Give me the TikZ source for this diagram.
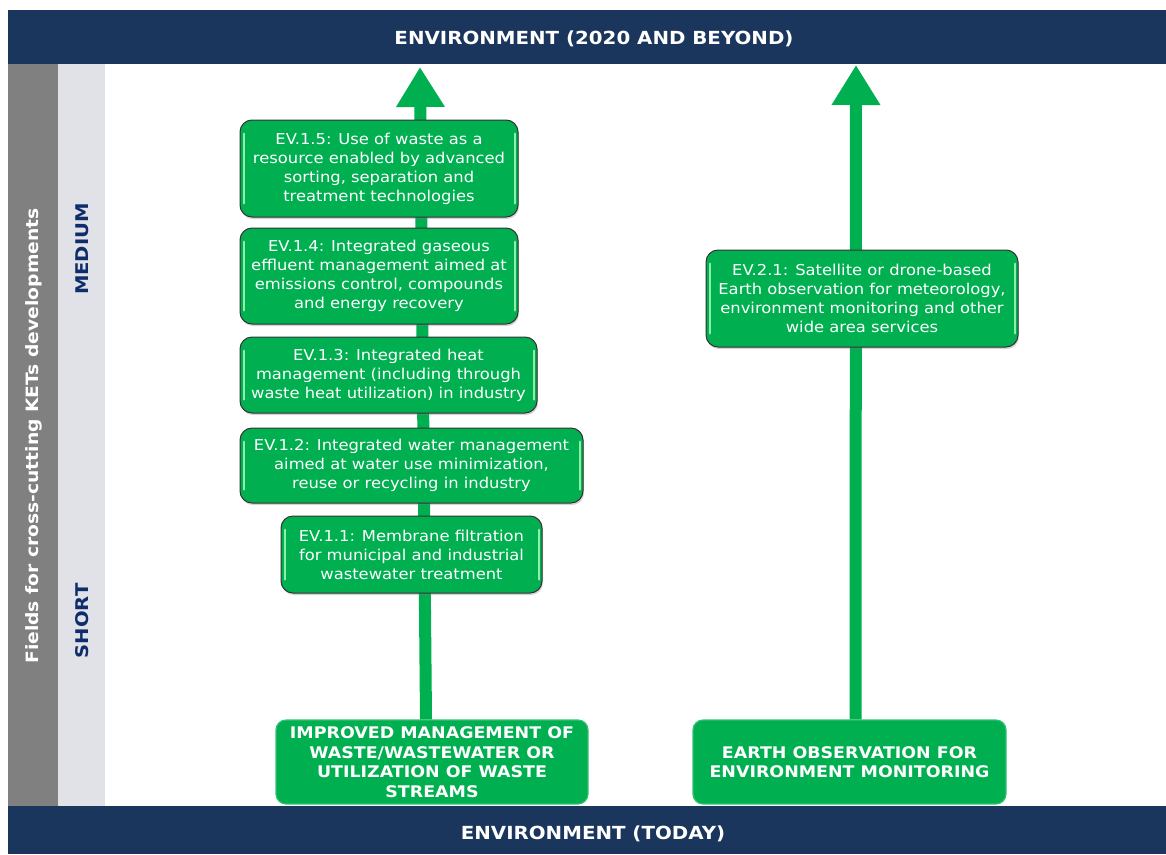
\documentclass[tikz,border=0pt]{standalone}
\usepackage{fontspec}
\setmainfont{DejaVu Sans}
% widened faces, close to the set width of the printed labels
\newfontfamily\textface[FakeStretch=1.09]{DejaVu Sans}
\newfontfamily\headface[FakeStretch=1.10]{DejaVu Sans}
\newfontfamily\sideface[FakeStretch=1.12]{DejaVu Sans}
\usetikzlibrary{arrows.meta,shadows,calc}

\definecolor{navy}{HTML}{1B365D}
\definecolor{kgreen}{HTML}{00B050}
\definecolor{colgray}{HTML}{808080}
\definecolor{collight}{HTML}{E1E2E7}
\definecolor{labelblue}{HTML}{102D6B}
\definecolor{glow}{HTML}{8CF0A8}

\tikzset{
  bannertext/.style={text=white, inner sep=0pt,
    font=\headface\fontsize{18}{21}\selectfont\bfseries},
  evbox/.style={rectangle, rounded corners=12pt, draw=black!80, line width=1pt,
    fill=kgreen, text=white, align=center, inner sep=0pt,
    font=\textface\fontsize{15}{19}\selectfont,
    drop shadow={opacity=0.35, shadow xshift=1pt, shadow yshift=-2pt}},
  basebox/.style={rectangle, rounded corners=10pt, draw=kgreen!80!white,
    line width=1.2pt, fill=kgreen, text=white, align=center, inner sep=0pt,
    font=\textface\fontsize{16}{19.5}\selectfont\bfseries},
  stem/.style={kgreen, line width=12pt, -{Triangle[width=46pt,length=40pt]}},
  sidelabel/.style={rotate=90, inner sep=0pt},
  fieldfont/.style={font=\headface\fontsize{17}{20}\selectfont\bfseries},
  termfont/.style={font=\sideface\fontsize{17.5}{20}\selectfont\bfseries},
}

% light inner glints on both sides of a rounded box
\newcommand{\glint}[1]{%
  \draw[glow, line width=2pt, line cap=round]
    ($(#1.north west)+(4,14)$) -- ($(#1.south west)+(4,-14)$);
  \draw[glow, line width=2pt, line cap=round]
    ($(#1.north east)+(-4,14)$) -- ($(#1.south east)+(-4,-14)$);
}

\begin{document}
\begin{tikzpicture}[x=1pt, y=-1pt]
\useasboundingbox (0,0) rectangle (1166,854);

% side columns
\fill[colgray] (8,64) rectangle (58,806);
\fill[collight] (58,64) rectangle (105,806);
\node[sidelabel, fieldfont, text=white] (fields) at (34,436) {Fields for cross-cutting KETs developments};
\node[sidelabel, termfont, text=labelblue] (medium) at (82,249) {MEDIUM};
\node[sidelabel, termfont, text=labelblue] (short) at (82,621) {SHORT};

% banners
\fill[navy] (8,10) rectangle (1166,64);
\fill[navy] (8,806) rectangle (1166,854);
\node[bannertext] (future) at (594,39) {ENVIRONMENT (2020 AND BEYOND)};
\node[bannertext] (today) at (593,834) {ENVIRONMENT (TODAY)};

% starting fields
\node[basebox, minimum width=312pt, minimum height=84pt] (waste) at (432,762)
  {IMPROVED MANAGEMENT OF\\WASTE/WASTEWATER OR\\UTILIZATION OF WASTE\\STREAMS};
\node[basebox, minimum width=313pt, minimum height=84pt] (earth) at (849.5,762)
  {EARTH OBSERVATION FOR\\ENVIRONMENT MONITORING};

% development arrows
\coordinate (ltip) at (420,67);
\coordinate (rtip) at (856,65);
\draw[stem] ([xshift=-6pt]waste.north) -- (ltip);
\draw[stem] ([xshift=6pt]earth.north) -- (rtip);

% milestones
\node[evbox, minimum width=278pt, minimum height=97pt] (ev15) at (379,168.5)
  {EV.1.5: Use of waste as a\\resource enabled by advanced\\sorting, separation and\\treatment technologies};
\node[evbox, minimum width=278pt, minimum height=96pt] (ev14) at (379,276)
  {EV.1.4: Integrated gaseous\\effluent management aimed at\\emissions control, compounds\\and energy recovery};
\node[evbox, minimum width=297pt, minimum height=76pt] (ev13) at (388.5,375)
  {EV.1.3: Integrated heat\\management (including through\\waste heat utilization) in industry};
\node[evbox, minimum width=343pt, minimum height=75pt] (ev12) at (411.5,465.5)
  {EV.1.2: Integrated water management\\aimed at water use minimization,\\reuse or recycling in industry};
\node[evbox, minimum width=261pt, minimum height=77pt] (ev11) at (411.5,554.5)
  {EV.1.1: Membrane filtration\\for municipal and industrial\\wastewater treatment};
\node[evbox, minimum width=312pt, minimum height=97pt] (ev21) at (862,298.5)
  {EV.2.1: Satellite or drone-based\\Earth observation for meteorology,\\environment monitoring and other\\wide area services};

\glint{ev15}
\glint{ev14}
\glint{ev13}
\glint{ev12}
\glint{ev11}
\glint{ev21}
\end{tikzpicture}
\end{document}
